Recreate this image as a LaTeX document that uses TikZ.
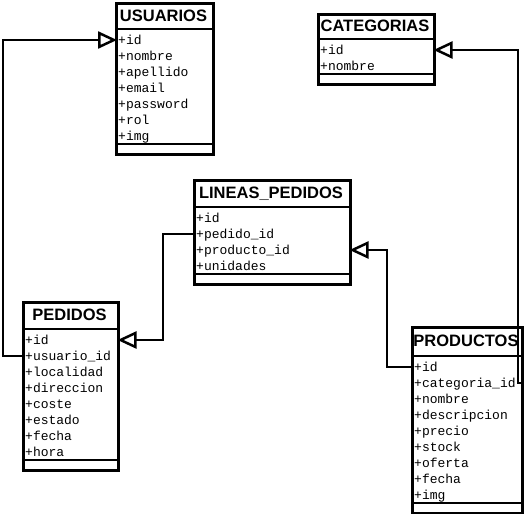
\documentclass[tikz,border=0pt]{standalone}
\usepackage{fontspec}
\setmainfont{Liberation Sans}
\newfontfamily\attrfont{Liberation Mono}
\usetikzlibrary{arrows.meta}
\tikzset{
  classbox/.style={draw, line width=2.5pt, fill=white, inner sep=0pt, anchor=north west},
  sepline/.style={line width=2.5pt},
  attr/.style={font=\attrfont\fontsize{13}{13}\selectfont, inner sep=0pt, anchor=west, text height=8pt, text depth=0pt},
  ctitle/.style={font=\bfseries\fontsize{16.5}{16.5}\selectfont, inner sep=0pt, text height=11.8pt, text depth=0pt},
  conn/.style={line width=2.5pt, shorten >=-2pt, -{Triangle[open, length=19pt, width=17pt, fill=white]}},
}
% #1 name #2 x #3 top #4 width #5 header #6 nrows #7 title #8 attrs
\newcommand{\umlcls}[8]{%
  \node[classbox, minimum width=#4, minimum height={#5+16*#6+12}] (#1) at (#2,#3) {};
  \draw[sepline] (#2,#3+#5) -- (#2+#4,#3+#5);
  \draw[sepline] (#2,#3+#5+16*#6+3) -- (#2+#4,#3+#5+16*#6+3);
  \node[ctitle] (#1-title) at (#2+#4/2,#3+#5/2) {#7};
  \foreach \a [count=\i] in {#8} {\node[attr] (#1-\i) at (#2+3,#3+#5+11+16*\i-16) {\a};}
}
\begin{document}
\begin{tikzpicture}[x=1pt,y=-1pt]
\useasboundingbox (0,0) rectangle (525,514);
\umlcls{usu}{115}{2}{97}{27}{7}{USUARIOS}{+id,+nombre,+apellido,+email,+password,+rol,+img}
\umlcls{cat}{317}{13}{116}{26}{2}{CATEGORIAS}{+id,+nombre}
\umlcls{lin}{193}{179}{156}{28}{4}{LINEAS\_PEDIDOS}{+id,+pedido\_id,+producto\_id,+unidades}
\umlcls{ped}{22}{301}{95}{28}{8}{PEDIDOS}{+id,+usuario\_id,+localidad,+direccion,+coste,+estado,+fecha,+hora}
\umlcls{prod}{411}{326}{110}{30}{9}{PRODUCTOS}{+id,+categoria\_id,+nombre,+descripcion,+precio,+stock,+oferta,+fecha,+img}
\coordinate (bendA) at (3,0);
\coordinate (bendB) at (163,0);
\coordinate (bendC) at (387,0);
\coordinate (bendD) at (518,0);
\draw[conn] (ped.west |- ped-2) -- (bendA |- ped-2) -- (bendA |- usu-1) -- (usu.west |- usu-1);
\draw[conn] (lin.west |- lin-2) -- (bendB |- lin-2) -- (bendB |- ped-1) -- (ped.east |- ped-1);
\draw[conn] (prod.west |- prod-1) -- (bendC |- prod-1) -- (bendC |- lin-3) -- (lin.east |- lin-3);
\draw[conn] (prod.east |- prod-2) -- (bendD |- prod-2) -- (bendD |- cat-1) -- (cat.east |- cat-1);
\end{tikzpicture}
\end{document}
